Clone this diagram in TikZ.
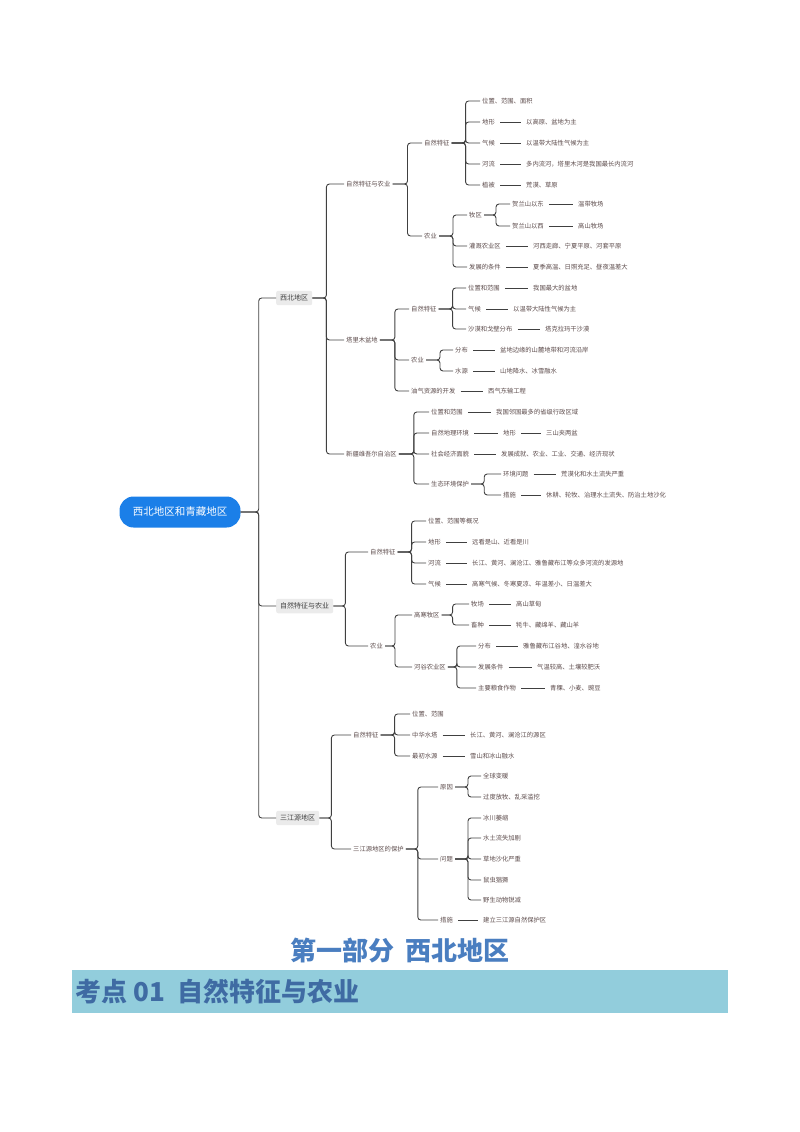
\documentclass[tikz,border=0pt]{standalone}
\usepackage{fontspec}
\setmainfont{Noto Sans CJK SC}
\usetikzlibrary{positioning}
\definecolor{rootblue}{HTML}{1B7FE8}
\definecolor{txtgray}{HTML}{5C4B4B}
\definecolor{titleblue}{HTML}{4A7EC0}
\definecolor{bandblue}{HTML}{92CDDC}
\tikzset{
  t/.style={anchor=west, inner sep=2pt, text=txtgray, font=\fontsize{6.3}{7}\selectfont},
  top/.style={t, fill=black!8, rounded corners=2pt, inner sep=4pt, text=black!75, font=\fontsize{7}{8}\selectfont},
  br/.style={draw=black!75, line width=0.9pt, rounded corners=3pt},
  lf/.style={draw=black!75, line width=0.9pt, shorten <=3pt, shorten >=3pt}
}
\newcommand{\fork}[3]{\foreach \c in {#3} \draw[br] (#1.east) -- ++(#2,0) |- (\c.west);}
\newcommand{\leaf}[2]{\draw[lf] (#1.east) -- (#2.west);}
\begin{document}
\begin{tikzpicture}[x=1pt,y=-1pt]
\useasboundingbox (0,0) rectangle (800,1132);
% root
\node (root) [fill=rootblue, text=white, rounded corners=14pt, minimum width=121pt, minimum height=31pt, font=\fontsize{10.5}{12}\selectfont] at (180,512) {西北地区和青藏地区};
\node (xb) [top] at (276,298) {西北地区};
\node (qz) [top] at (276,606) {自然特征与农业};
\node (sj) [top] at (276,818) {三江源地区};
\fork{root}{18}{xb,qz,sj}

% 西北地区
\node (xb1) [t] at (344,184) {自然特征与农业};
\node (xb2) [t] at (344,340) {塔里木盆地};
\node (xb3) [t] at (344,454) {新疆维吾尔自治区};
\fork{xb}{14}{xb1,xb2,xb3}

\node (a1) [t] at (422,143) {自然特征};
\node (a2) [t] at (422,236) {农业};
\fork{xb1}{15}{a1,a2}
\node (a11) [t] at (480,101) {位置、范围、面积};
\node (a12) [t] at (480,122) {地形};
\node (a13) [t] at (480,143) {气候};
\node (a14) [t] at (480,164) {河流};
\node (a15) [t] at (480,185) {植被};
\fork{a1}{14}{a11,a12,a13,a14,a15}
\node (a12l) [t] at (524,122) {以高原、盆地为主};
\node (a13l) [t] at (524,143) {以温带大陆性气候为主};
\node (a14l) [t] at (524,164) {多内流河，塔里木河是我国最长内流河};
\node (a15l) [t] at (524,185) {荒漠、草原};
\leaf{a12}{a12l} \leaf{a13}{a13l} \leaf{a14}{a14l} \leaf{a15}{a15l}
\node (a21) [t] at (467,215) {牧区};
\node (a22) [t] at (467,246) {灌溉农业区};
\node (a23) [t] at (467,267) {发展的条件};
\fork{a2}{14}{a21,a22,a23}
\node (a211) [t] at (510,204) {贺兰山以东};
\node (a212) [t] at (510,226) {贺兰山以西};
\fork{a21}{12}{a211,a212}
\node (a211l) [t] at (576,204) {温带牧场};
\node (a212l) [t] at (576,226) {高山牧场};
\leaf{a211}{a211l} \leaf{a212}{a212l}
\node (a22l) [t] at (531,246) {河西走廊、宁夏平原、河套平原};
\node (a23l) [t] at (531,267) {夏季高温、日照充足、昼夜温差大};
\leaf{a22}{a22l} \leaf{a23}{a23l}

\node (b1) [t] at (409,309) {自然特征};
\node (b2) [t] at (409,360) {农业};
\node (b3) [t] at (409,391) {油气资源的开发};
\fork{xb2}{15}{b1,b2,b3}
\node (b11) [t] at (466,288) {位置和范围};
\node (b12) [t] at (466,309) {气候};
\node (b13) [t] at (466,329) {沙漠和戈壁分布};
\fork{b1}{14}{b11,b12,b13}
\node (b11l) [t] at (531,288) {我国最大的盆地};
\node (b12l) [t] at (511,309) {以温带大陆性气候为主};
\node (b13l) [t] at (543,329) {塔克拉玛干沙漠};
\leaf{b11}{b11l} \leaf{b12}{b12l} \leaf{b13}{b13l}
\node (b21) [t] at (453,350) {分布};
\node (b22) [t] at (453,371) {水源};
\fork{b2}{14}{b21,b22}
\node (b21l) [t] at (498,350) {盆地边缘的山麓地带和河流沿岸};
\node (b22l) [t] at (498,371) {山地降水、冰雪融水};
\leaf{b21}{b21l} \leaf{b22}{b22l}
\node (b3l) [t] at (486,391) {西气东输工程};
\leaf{b3}{b3l}

\node (c1) [t] at (429,412) {位置和范围};
\node (c2) [t] at (429,433) {自然地理环境};
\node (c3) [t] at (429,454) {社会经济面貌};
\node (c4) [t] at (429,484) {生态环境保护};
\fork{xb3}{15}{c1,c2,c3,c4}
\node (c1l) [t] at (494,412) {我国邻国最多的省级行政区域};
\node (c2l) [t] at (501,433) {地形};
\node (c2ll) [t] at (544,433) {三山夹两盆};
\node (c3l) [t] at (499,454) {发展成就、农业、工业、交通、经济现状};
\leaf{c1}{c1l} \leaf{c2}{c2l} \leaf{c2l}{c2ll} \leaf{c3}{c3l}
\node (c41) [t] at (501,474) {环境问题};
\node (c42) [t] at (501,495) {措施};
\fork{c4}{13}{c41,c42}
\node (c41l) [t] at (559,474) {荒漠化和水土流失严重};
\node (c42l) [t] at (544,495) {休耕、轮牧、治理水土流失、防治土地沙化};
\leaf{c41}{c41l} \leaf{c42}{c42l}

% 青藏地区
\node (q1) [t] at (368,552) {自然特征};
\node (q2) [t] at (368,646) {农业};
\fork{qz}{12}{q1,q2}
\node (q11) [t] at (426,521) {位置、范围等概况};
\node (q12) [t] at (426,542) {地形};
\node (q13) [t] at (426,563) {河流};
\node (q14) [t] at (426,584) {气候};
\fork{q1}{14}{q11,q12,q13,q14}
\node (q12l) [t] at (470,542) {远看是山、近看是川};
\node (q13l) [t] at (470,563) {长江、黄河、澜沧江、雅鲁藏布江等众多河流的发源地};
\node (q14l) [t] at (470,584) {高寒气候、冬寒夏凉、年温差小、日温差大};
\leaf{q12}{q12l} \leaf{q13}{q13l} \leaf{q14}{q14l}
\node (q21) [t] at (412,615) {高寒牧区};
\node (q22) [t] at (412,667) {河谷农业区};
\fork{q2}{10}{q21,q22}
\node (q211) [t] at (469,604) {牧场};
\node (q212) [t] at (469,625) {畜种};
\fork{q21}{11}{q211,q212}
\node (q211l) [t] at (514,604) {高山草甸};
\node (q212l) [t] at (514,625) {牦牛、藏绵羊、藏山羊};
\leaf{q211}{q211l} \leaf{q212}{q212l}
\node (q221) [t] at (476,646) {分布};
\node (q222) [t] at (476,667) {发展条件};
\node (q223) [t] at (476,688) {主要粮食作物};
\fork{q22}{9}{q221,q222,q223}
\node (q221l) [t] at (521,646) {雅鲁藏布江谷地、湟水谷地};
\node (q222l) [t] at (535,667) {气温较高、土壤较肥沃};
\node (q223l) [t] at (548,688) {青稞、小麦、豌豆};
\leaf{q221}{q221l} \leaf{q222}{q222l} \leaf{q223}{q223l}

% 三江源地区
\node (s1) [t] at (351,735) {自然特征};
\node (s2) [t] at (351,849) {三江源地区的保护};
\fork{sj}{12}{s1,s2}
\node (s11) [t] at (410,714) {位置、范围};
\node (s12) [t] at (410,735) {中华水塔};
\node (s13) [t] at (410,756) {最初水源};
\fork{s1}{14}{s11,s12,s13}
\node (s12l) [t] at (468,735) {长江、黄河、澜沧江的源区};
\node (s13l) [t] at (468,756) {雪山和冰山融水};
\leaf{s12}{s12l} \leaf{s13}{s13l}
\node (s21) [t] at (438,787) {原因};
\node (s22) [t] at (438,859) {问题};
\node (s23) [t] at (438,920) {措施};
\fork{s2}{12}{s21,s22,s23}
\node (s211) [t] at (481,776) {全球变暖};
\node (s212) [t] at (481,797) {过度放牧、乱采滥挖};
\fork{s21}{13}{s211,s212}
\node (s221) [t] at (481,818) {冰川萎缩};
\node (s222) [t] at (481,838) {水土流失加剧};
\node (s223) [t] at (481,859) {草地沙化严重};
\node (s224) [t] at (481,880) {鼠虫猖獗};
\node (s225) [t] at (481,900) {野生动物锐减};
\fork{s22}{13}{s221,s222,s223,s224,s225}
\node (s23l) [t] at (481,920) {建立三江源自然保护区};
\leaf{s23}{s23l}

% titles
\node (part) [text=titleblue, font=\fontsize{26}{28}\bfseries] at (400,951) {第一部分\ \ 西北地区};
\fill[bandblue] (72,970) rectangle (728,1013);
\node (kd) [anchor=west, text=titleblue!85!black, font=\fontsize{26}{28}\bfseries] at (72,992) {考点 01\ \ 自然特征与农业};
\end{tikzpicture}
\end{document}
